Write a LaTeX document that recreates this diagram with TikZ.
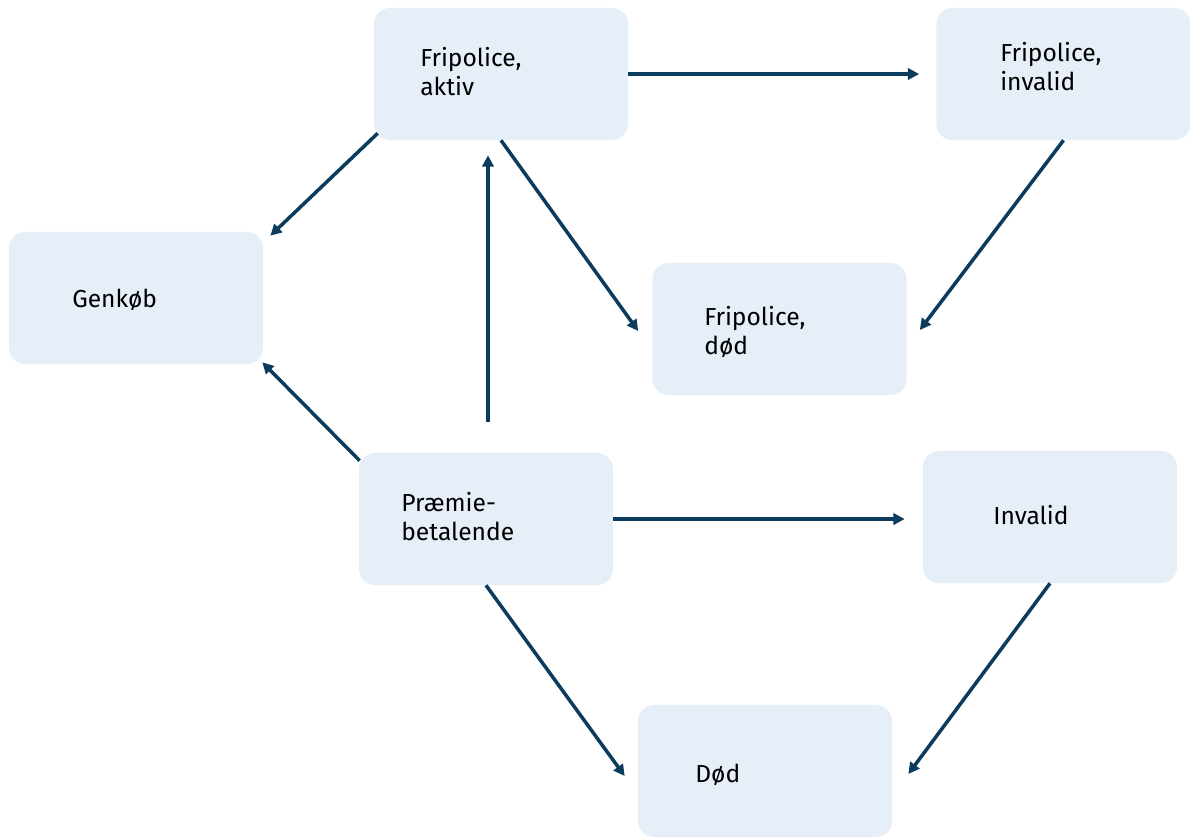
\documentclass[tikz,border=0pt]{standalone}
\usepackage{fontspec}
\setmainfont{Fira Sans}
\usetikzlibrary{arrows.meta,calc,positioning}
\definecolor{navy}{HTML}{0B3C5D}
\definecolor{boxblue}{HTML}{E6EEF7}
\tikzset{box/.style={fill=boxblue,rounded corners=0.4cm,minimum width=6.35cm,minimum height=3.3cm,inner sep=0pt},
  txt/.style={anchor=west,align=left,inner sep=0pt,font=\fontsize{17.5}{20.6}\selectfont},
  arr/.style={-{Triangle[length=2.8mm,width=2.8mm]},line width=2.5pt,navy}}

\begin{document}
\begin{tikzpicture}[x=0.025cm,y=-0.025cm]
\useasboundingbox (0,0) rectangle (1190,838);
% states
\node[box] (aktiv) at (501,74) {};
\node[box] (finv) at (1063.5,74) {};
\node[box] (genkob) at (136,298) {};
\node[box] (fdod) at (779.5,329) {};
\node[box] (praemie) at (486,519) {};
\node[box] (invalid) at (1050,517) {};
\node[box] (dod) at (765,771) {};
\node[txt] (aktivtxt) at (420,72) {Fripolice,\\aktiv};
\node[txt] (finvtxt) at (1000,67) {Fripolice,\\invalid};
\node[txt] (genkobtxt) at (72,300) {Genkøb};
\node[txt] (fdodtxt) at (704,332) {Fripolice,\\død};
\node[txt] (praemietxt) at (401,517) {Præmie-\\betalende};
\node[txt] (invalidtxt) at (993,515) {Invalid};
\node[txt] (dodtxt) at (695,775) {Død};
% transitions
\draw[arr,shorten >=0.425cm] (aktiv) -- (finv);
\draw[arr] ($(aktiv.south west)+(4,-7)$) -- ($(genkob.north east)+(7,4)$);
\draw[arr] ($(praemie.north)+(2,-31)$) -- ($(aktiv.south)+(-13,15)$);
\draw[arr] (aktiv.south) -- ($(fdod.west)+(-14,2)$);
\draw[arr] (finv.south) -- ($(fdod.east)+(13,1)$);
\draw[arr] ($(praemie.north west)+(1,8)$) -- ($(genkob.south east)+(-1,-2)$);
\draw[arr,shorten >=0.45cm] (praemie) -- (praemie -| invalid.west);
\draw[arr] (praemie.south) -- ($(dod.west)+(-13,5)$);
\draw[arr] (invalid.south) -- ($(dod.east)+(16,3)$);
\end{tikzpicture}
\end{document}
